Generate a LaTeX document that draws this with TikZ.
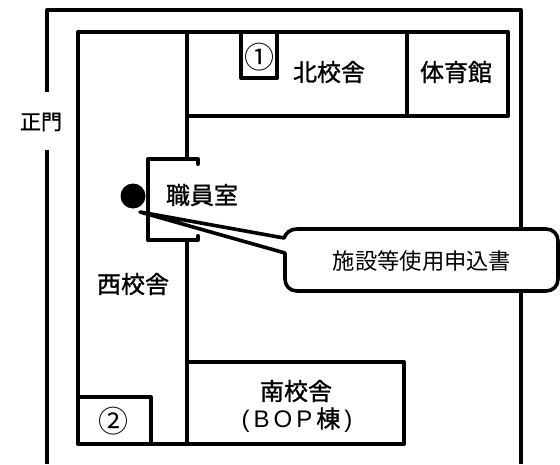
\documentclass[tikz,border=0pt]{standalone}
\usepackage{fontspec}
\newfontfamily\cjk{Noto Sans CJK JP}
\newfontfamily\cjkb[FakeBold=1.1]{Noto Sans CJK JP}
\setmainfont{Liberation Sans}
\tikzset{wall/.style={line width=4pt,line join=round,line cap=round,black},
lab/.style={font=\cjkb\fontsize{24}{26}\selectfont,inner sep=0pt,text=black},
num/.style={inner sep=0pt,font=\cjk\fontsize{30}{32}\selectfont}}
\begin{document}
\begin{tikzpicture}[x=1pt,y=-1pt]
\useasboundingbox (0,0) rectangle (560,464);
\coordinate (gateA) at (47,92);
\coordinate (cornerA) at (47,10);
\coordinate (cornerB) at (521,10);
\coordinate (endB) at (521,464);
\coordinate (gateB) at (47,150);
\coordinate (endA) at (47,464);
\draw[wall,line cap=butt] (gateA) -- (cornerA) -- (cornerB) -- (endB);
\draw[wall,line cap=butt] (gateB) -- (endA);
\draw[wall] (78,32) rectangle (187,444);
\draw[wall] (187,32) -- (508,32) -- (508,116) -- (187,116);
\fill[white] (185,161) rectangle (189,238);
\draw[wall] (407,32) -- (407,116);
\draw[wall] (241,32) -- (241,78) -- (277,78) -- (277,32);
\draw[wall] (187,444) -- (404,444) -- (404,362) -- (187,362);
\draw[wall] (78,397) -- (151,397) -- (151,444);
\draw[wall] (198,164) -- (198,159) -- (148,159) -- (148,240) -- (198,240) -- (198,236);
\fill (133,196) circle (12.5);
\draw[wall,line width=3.6pt,fill=white] (140,212) -- (284,238) .. controls (286,233) and (290,229) .. (297,229) -- (546,229) .. controls (553,229) and (558,234) .. (558,241) -- (558,279) .. controls (558,286) and (553,291) .. (546,291) -- (297,291) .. controls (290,291) and (285,286) .. (285,279) -- (285,253) -- cycle;
\node[lab] (seimon) at (41,122) {\fontsize{21}{23}\selectfont 正門};
\node[lab] (kita) at (329,72) {北校舎};
\node[lab] (tai) at (456,72) {体育館};
\node[lab] (shoku) at (202,195) {職員室};
\node[lab] (nishi) at (133,284) {西校舎};
\node[lab] (minami) at (296,391) {南校舎};
\node[inner sep=0pt,font=\fontsize{24}{26}\selectfont] (bop) at (297,420) {(\,B\,O\,P\,{\cjkb 棟}\,)};
\node[inner sep=0pt,font=\cjk\fontsize{22.3}{24}\selectfont] (form) at (422,261) {施設等使用申込書};
\node[num] (one) at (259,57) {①};
\node[num] (two) at (113,421) {②};
\end{tikzpicture}
\end{document}
